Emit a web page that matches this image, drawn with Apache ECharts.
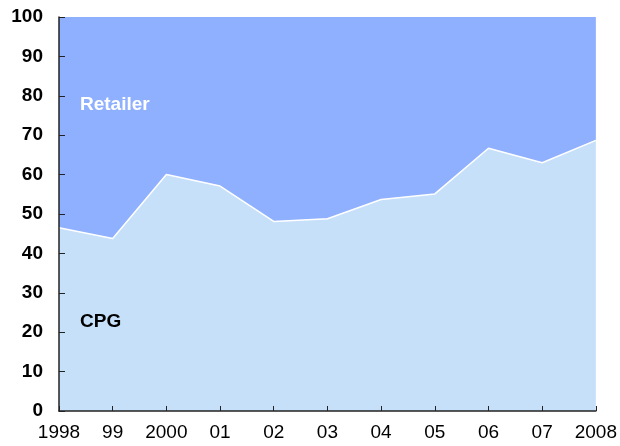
<!DOCTYPE html>
<html>
<head>
<meta charset="utf-8">
<script src="https://cdn.jsdelivr.net/npm/echarts@6/dist/echarts.min.js"></script>
<style>
  html, body { margin: 0; padding: 0; background: #fff; }
  #chart { width: 620px; height: 446px; }
</style>
</head>
<body>
<div id="chart"></div>
<script>
const years = ['1998', '99', '2000', '01', '02', '03', '04', '05', '06', '07', '2008'];
const cpg = [46.5, 43.8, 60.0, 57.1, 48.1, 48.8, 53.7, 55.1, 66.7, 63.0, 68.7];
const retailer = [53.5, 56.2, 40.0, 42.9, 51.9, 51.2, 46.3, 44.9, 33.3, 37.0, 31.3];
const yTicks = { min: 0, max: 100, step: 10 };

const font = 'Liberation Sans';
const chart = echarts.init(document.getElementById('chart'));

let option = {
    animation: false,
    grid: { left: 59, right: 22, top: 17, bottom: 35 },
    xAxis: {
        type: 'category',
        data: years,
        boundaryGap: false,
        z: 10,
        axisLine: { lineStyle: { color: '#222', width: 1.5 } },
        axisTick: { inside: true, length: 5, interval: 0, lineStyle: { color: '#222' } },
        axisLabel: { color: '#000', fontFamily: font, fontSize: 19, margin: 12, interval: 0, hideOverlap: false },
        splitLine: { show: false }
    },
    yAxis: {
        type: 'value',
        min: yTicks.min,
        max: yTicks.max,
        interval: yTicks.step,
        z: 10,
        axisLine: { show: true, lineStyle: { color: '#222', width: 1.5 } },
        axisTick: { show: true, inside: true, length: 6, lineStyle: { color: '#222' } },
        axisLabel: { color: '#000', fontFamily: font, fontSize: 19, fontWeight: 'bold', margin: 16 },
        splitLine: { show: false }
    },
    series: [{
        name: 'CPG',
        type: 'line',
        stack: 'share',
        data: cpg,
        symbol: 'none',
        lineStyle: { color: '#ffffff', width: 1.5 },
        areaStyle: { color: '#c6e0fa', opacity: 1 },
        z: 3
    }, {
        name: 'Retailer',
        type: 'line',
        stack: 'share',
        data: retailer,
        symbol: 'none',
        lineStyle: { width: 0 },
        areaStyle: { color: '#8fb0ff', opacity: 1 },
        z: 2
    }],
    graphic: {
        elements: [{
            type: 'text',
            x: 80, y: 105,
            z: 100,
            style: {
                text: 'Retailer', fill: '#ffffff',
                fontFamily: font, fontSize: 19, fontWeight: 'bold',
                verticalAlign: 'middle'
            }
        }, {
            type: 'text',
            x: 80, y: 322,
            z: 100,
            style: {
                text: 'CPG', fill: '#000000',
                fontFamily: font, fontSize: 19, fontWeight: 'bold',
                verticalAlign: 'middle'
            }
        }]
    }
};
chart.setOption(option);
</script>
</body>
</html>
